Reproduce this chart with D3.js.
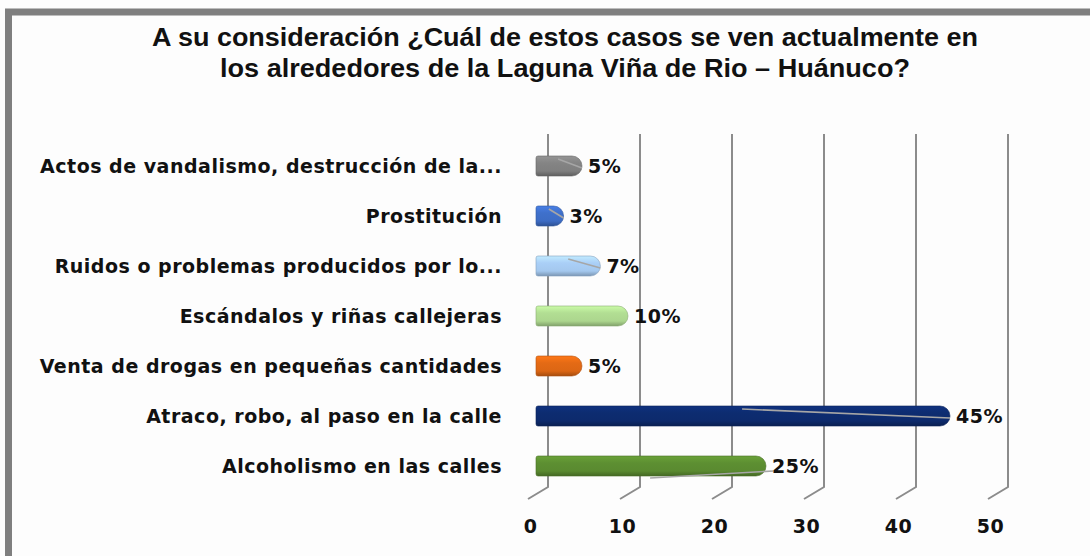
<!DOCTYPE html>
<html>
<head>
<meta charset="utf-8">
<script src="https://cdn.jsdelivr.net/npm/d3@7"></script>
<style>
	body { margin: 0; background: #fdfdfd; }
	svg { display: block; }
</style>
</head>
<body>
<script>
// data, top to bottom as in the picture
var categories = [
	"Actos de vandalismo, destrucción de la...",
	"Prostitución",
	"Ruidos o problemas producidos por lo...",
	"Escándalos y riñas callejeras",
	"Venta de drogas en pequeñas cantidades",
	"Atraco, robo, al paso en la calle",
	"Alcoholismo en las calles"
];
var values = [5, 3, 7, 10, 5, 45, 25];
var valueLabels = ["5%", "3%", "7%", "10%", "5%", "45%", "25%"];
var barColors = ["#7f7f7f", "#3d6cc4", "#a4c8ee", "#acd68e", "#dc6614", "#0d2a6c", "#5a8a30"];
var ticks = [0, 10, 20, 30, 40, 50];
// leader lines of the data labels (value units)
var leaderFrom = [2.4, 1.4, 3.5, null, null, 22.4, 12.4];
var leaderTo = [5, 3, 7, null, null, 45, 25.8];
var titleLines = [
	"A su consideración ¿Cuál de estos casos se ven actualmente en",
	"los alrededores de la Laguna Viña de Rio – Huánuco?"
];

var w = 1090, h = 556;
var depthX = 12, floorDx = -20, floorDy = 12;
var barH = 20;
var font = "'DejaVu Sans', Verdana, sans-serif";

var svg = d3.select("body").append("svg")
	.attr("width", w)
	.attr("height", h);

// frame
svg.append("rect")
	.attr("x", 8.5).attr("y", 12).attr("width", w + 20).attr("height", h + 20)
	.attr("fill", "#fdfdfd")
	.attr("stroke", "#7f7f7f")
	.attr("stroke-width", 7);

// title
svg.selectAll("text.title")
	.data(titleLines)
	.enter().append("text")
	.attr("class", "title")
	.attr("x", 565)
	.attr("y", function(d, i) { return 46 + i * 31; })
	.attr("text-anchor", "middle")
	.attr("textLength", function(d, i) { return i == 0 ? 826 : 690; })
	.attr("lengthAdjust", "spacingAndGlyphs")
	.style("font-family", "'Liberation Sans Narrow', 'Liberation Sans', Arial, sans-serif")
	.style("font-weight", "bold")
	.style("font-size", "25px")
	.style("fill", "#111")
	.text(function(d) { return d; });

var x = d3.scaleLinear().domain([0, 50]).range([536, 996]);
var y = d3.scalePoint().domain(categories).range([166, 466]);

var gridTop = 134, gridBottom = 487;

// gridlines (back wall) + floor edge
var grid = svg.append("g");
ticks.forEach(function(t) {
	var gx = x(t) + depthX;
	grid.append("path")
		.attr("d", "M" + gx + " " + gridTop + " L" + gx + " " + gridBottom +
			" L" + (gx + floorDx) + " " + (gridBottom + floorDy))
		.attr("fill", "none")
		.attr("stroke", "#8c8c8c")
		.attr("stroke-width", 2);
});

// tick labels
svg.append("g")
	.attr("transform", "translate(-6," + 533 + ")")
	.call(d3.axisBottom(x).tickValues(ticks).tickSize(0).tickPadding(0))
	.call(function(g) { g.select(".domain").remove(); })
	.selectAll("text")
	.attr("dy", 0)
	.style("font-family", font)
	.style("font-weight", "bold")
	.style("font-size", "19px")
	.style("letter-spacing", "0.5px")
	.style("fill", "#111");

// gradients for cylinder bars
var defs = svg.append("defs");
barColors.forEach(function(c, i) {
	var g = defs.append("linearGradient")
		.attr("id", "grad" + i)
		.attr("x1", 0).attr("y1", 0).attr("x2", 0).attr("y2", 1);
	var base = d3.color(c);
	g.append("stop").attr("offset", "0%").attr("stop-color", base.brighter(0.45));
	g.append("stop").attr("offset", "35%").attr("stop-color", base.brighter(0.1));
	g.append("stop").attr("offset", "75%").attr("stop-color", base);
	g.append("stop").attr("offset", "100%").attr("stop-color", base.darker(0.8));
});

function barPath(v, cy) {
	var x0 = x(0), x1 = x(v), r = barH / 2, t = cy - r;
	return "M" + (x0 + 2) + " " + t +
		" L" + (x1 - r) + " " + t +
		" A" + r + " " + r + " 0 0 1 " + (x1 - r) + " " + (t + barH) +
		" L" + (x0 + 2) + " " + (t + barH) +
		" Q" + x0 + " " + (t + barH) + " " + x0 + " " + (t + barH - 2) +
		" L" + x0 + " " + (t + 2) +
		" Q" + x0 + " " + t + " " + (x0 + 2) + " " + t + " z";
}

var rows = svg.selectAll("g.row")
	.data(categories)
	.enter().append("g")
	.attr("class", "row");

rows.append("path")
	.attr("d", function(d, i) { return barPath(values[i], y(d)); })
	.attr("fill", function(d, i) { return "url(#grad" + i + ")"; })
	.attr("stroke", function(d, i) { return d3.color(barColors[i]).darker(0.6); })
	.attr("stroke-width", 0.6);

// leader lines
rows.filter(function(d, i) { return leaderFrom[i] != null; })
	.append("path")
	.attr("d", function(d) {
		var i = categories.indexOf(d);
		var cy = y(d);
		var sy = i == 6 ? cy + 12 : cy - 7;
		var ey = i == 6 ? cy + 5 : cy + 2;
		return "M" + x(leaderFrom[i]) + " " + sy + " L" + x(leaderTo[i]) + " " + ey;
	})
	.attr("fill", "none")
	.attr("stroke", "#a6a6a6")
	.attr("stroke-width", 1.6);

// value labels
rows.append("text")
	.attr("x", function(d, i) { return x(values[i]) + 6; })
	.attr("y", function(d) { return y(d); })
	.attr("dy", "0.36em")
	.style("font-family", font)
	.style("font-weight", "bold")
	.style("font-size", "19px")
	.style("letter-spacing", "0.5px")
	.style("fill", "#111")
	.text(function(d, i) { return valueLabels[i]; });

// category labels
rows.append("text")
	.attr("x", 502)
	.attr("y", function(d) { return y(d); })
	.attr("dy", "0.36em")
	.attr("text-anchor", "end")
	.style("font-family", font)
	.style("font-weight", "bold")
	.style("font-size", "19px")
	.style("letter-spacing", "0.5px")
	.style("fill", "#111")
	.text(function(d) { return d; });
</script>
</body>
</html>
